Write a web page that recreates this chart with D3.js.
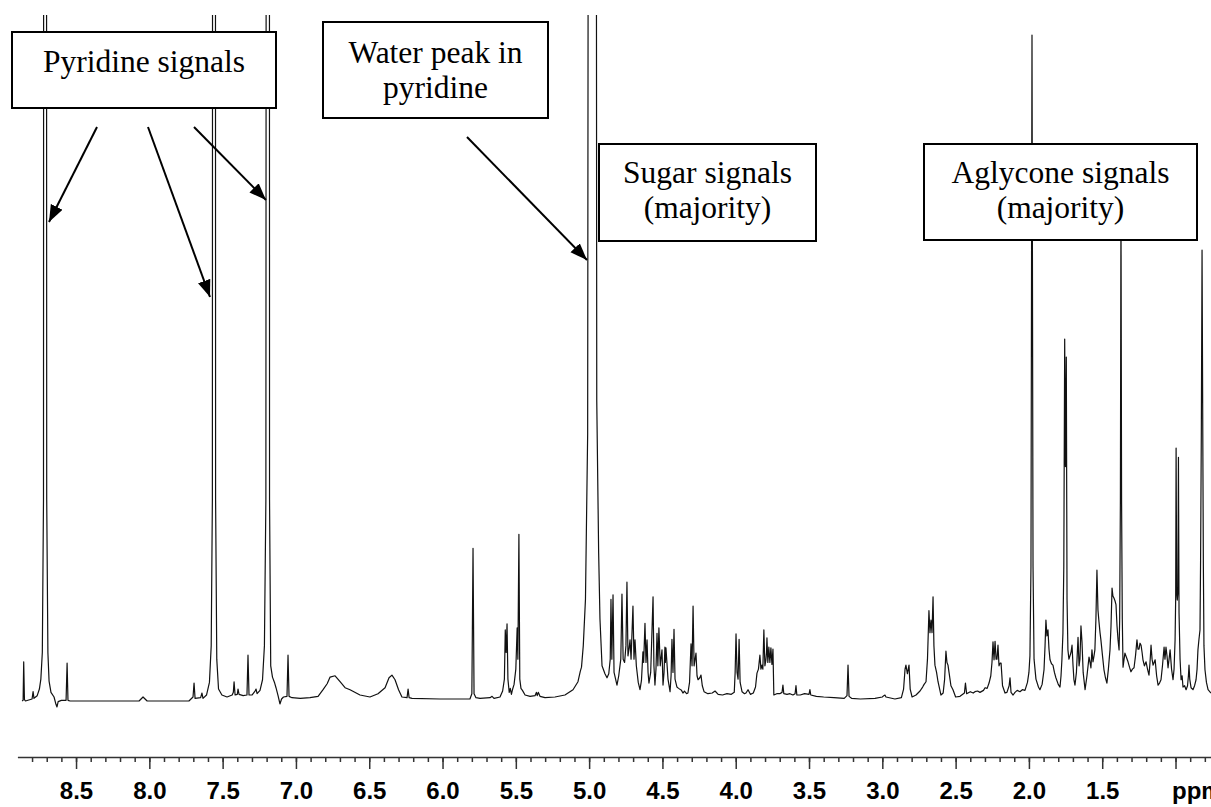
<!DOCTYPE html>
<html>
<head>
<meta charset="utf-8">
<title>1H NMR spectrum in pyridine</title>
<style>
body { margin: 0; background: #fff; }
.spectrum { fill: none; stroke: #111; stroke-width: 1.2px; stroke-linejoin: round; }
.axis path, .axis line { stroke: #333; stroke-width: 1.5px; }
.axis text { font: bold 24px "Liberation Sans", Arial, sans-serif; fill: #000; }
.note rect { fill: #fff; stroke: #000; stroke-width: 2px; }
.note text { font: 31.5px "Liberation Serif", "Times New Roman", serif; fill: #000; text-anchor: middle; }
.arrow { stroke: #000; stroke-width: 2px; }
</style>
</head>
<body>
<script src="https://cdnjs.cloudflare.com/ajax/libs/d3/7.8.5/d3.min.js"></script>
<script>

// spectrum as [ppm, intensity] (1.98 ppm singlet = 100)
var aromaticRegion = [
  [8.868,-0.3],[8.861,-0.2],[8.857,5.6],[8.852,-0.1],[8.845,-0.3],[8.800,0.0],[8.793,1.1],[8.787,0.1],
  [8.765,0.5],[8.750,1.5],[8.740,3.0],[8.730,7.0],[8.722,30],[8.718,400],[8.705,400],[8.700,30],
  [8.692,7.0],[8.684,2.7],[8.671,1.0],[8.650,0.3],[8.637,-0.8],[8.630,-1.2],[8.622,-0.4],[8.600,-0.2],
  [8.568,-0.2],[8.561,5.4],[8.555,-0.2],[8.540,-0.3],[8.340,-0.3],[8.070,-0.3],[8.043,0.3],[8.015,-0.3],
  [7.730,-0.3],[7.702,0.3],[7.695,2.4],[7.688,0.1],[7.650,0.2],[7.641,0.9],[7.634,0.1],[7.610,0.6],
  [7.590,2.5],[7.578,8],[7.570,30],[7.565,400],[7.552,400],[7.548,30],[7.540,6],[7.528,1.5],
  [7.505,0.6],[7.470,0.3],[7.435,0.6],[7.427,1.0],[7.422,2.6],[7.415,0.6],[7.400,0.7],[7.395,1.5],
  [7.388,0.7],[7.360,0.5],[7.334,0.6],[7.327,6.6],[7.320,0.6],[7.300,0.6],[7.279,1.2],[7.272,1.5],
  [7.265,0.8],[7.245,1.3],[7.228,2.9],[7.215,8],[7.205,30],[7.197,400],[7.183,400],[7.180,30],
  [7.172,5],[7.160,3.3],[7.145,2.4],[7.136,1.7],[7.122,0.5],[7.109,-0.75],[7.098,0.0],[7.085,0.3],
  [7.061,0.4],[7.054,6.6],[7.047,0.4],[7.027,0.2],[6.970,0.1],[6.904,0.2],[6.849,0.4],[6.815,1.4],
  [6.787,2.3],[6.767,3.3],[6.733,3.5],[6.699,2.6],[6.665,1.7],[6.631,1.4],[6.563,0.6],[6.495,0.3],
  [6.440,0.8],[6.392,1.7],[6.365,3.2],[6.345,3.6],[6.324,2.9],[6.300,1.4],[6.277,0.3],[6.242,0.2],
  [6.235,1.5],[6.228,0.2],[6.208,0.1],[6.017,0.0]
];

var olefinicRegion = [
  [5.813,0.0],[5.800,0.8],[5.792,22.7],[5.785,0.8],[5.772,0.2],[5.744,0.1],[5.676,0.2],[5.662,0.4],
  [5.649,0.1],[5.608,0.3],[5.590,1.2],[5.578,3.0],[5.572,10.4],[5.566,7.0],[5.560,11.3],[5.554,3.0],
  [5.545,1.0],[5.538,1.6],[5.530,0.7],[5.523,1.4],[5.512,2.2],[5.500,4.5],[5.491,10.7],[5.486,6.0],
  [5.479,24.8],[5.473,3.0],[5.465,1.6],[5.455,1.3],[5.437,0.6],[5.403,0.4],[5.369,0.5],[5.360,1.0],
  [5.354,0.5],[5.347,1.0],[5.335,0.4],[5.301,0.2],[5.233,0.3],[5.165,0.6],[5.110,1.4],[5.076,2.6],
  [5.060,4.2],[5.052,4.8],[5.040,8],[5.025,15],[5.010,40],[4.994,400],[4.960,400],[4.948,45],
  [4.935,22],[4.926,12],[4.912,5.0],[4.892,3.8]
];

var sugarRegion = [
  [4.878,3.2],[4.866,3.8],[4.856,6],[4.851,15.0],[4.845,6],[4.837,15.7],[4.830,4],[4.810,2.1],
  [4.798,3.5],[4.784,6],[4.776,15.8],[4.768,6],[4.758,5.5],[4.749,8],[4.742,17.6],[4.735,6.5],
  [4.728,7.5],[4.721,8.9],[4.714,6.0],[4.701,14.0],[4.694,6.0],[4.687,8.9],[4.678,5.0],[4.665,2.5],
  [4.653,1.4],[4.643,2.8],[4.633,7.1],[4.628,5.5],[4.619,11.4],[4.612,5.5],[4.605,8.9],[4.598,4.0],
  [4.592,2.4],[4.580,4.0],[4.564,15.4],[4.558,5.0],[4.551,2.1],[4.544,4.5],[4.537,9.9],[4.531,5.0],
  [4.524,10.7],[4.515,5.0],[4.503,7.4],[4.496,2.1],[4.489,4.0],[4.483,7.8],[4.480,5.5],[4.476,7.7],
  [4.462,3.0],[4.448,1.1],[4.441,3.5],[4.435,9.0],[4.428,4.0],[4.421,10.5],[4.414,3.0],[4.401,1.8],
  [4.390,1.6],[4.370,1.3],[4.360,0.9],[4.350,1.2],[4.335,0.8],[4.326,0.9],[4.315,2.5],[4.305,8.3],
  [4.298,5.0],[4.291,14.0],[4.284,5.0],[4.271,6.9],[4.264,3.5],[4.257,2.9],[4.245,3.2],[4.237,3.6],
  [4.228,2.0],[4.216,1.1],[4.190,0.8],[4.160,0.9],[4.141,1.2],[4.120,0.7],[4.090,0.6],[4.060,0.8],
  [4.030,0.7],[4.010,1.0],[4.004,4],[3.998,9.8],[3.991,4],[3.984,3],[3.977,9.0],[3.970,2.5],
  [3.957,1.1],[3.940,0.8],[3.930,0.9],[3.916,1.4],[3.900,0.7],[3.880,0.9],[3.865,1.8],[3.855,3.9],
  [3.845,4.5],[3.835,6.6],[3.828,4.5],[3.821,5.1],[3.815,4.5],[3.808,10.4],[3.801,5.0],[3.794,5.9],
  [3.790,7.0],[3.787,9.2],[3.781,5.5],[3.774,7.8],[3.767,5.5],[3.760,7.7],[3.753,5.2],[3.746,7.5],
  [3.740,0.6],[3.720,0.8],[3.700,0.8],[3.684,1.0],[3.678,2.1],[3.672,0.8],[3.650,0.7],[3.630,0.8],
  [3.610,0.6],[3.595,0.8],[3.589,2.0],[3.583,0.6],[3.560,0.6],[3.530,0.8],[3.500,0.7],[3.494,1.4],
  [3.488,0.6],[3.450,0.4],[3.400,0.3],[3.330,0.2],[3.260,0.1],[3.241,0.5],[3.234,5.1],[3.227,0.4],
  [3.210,0.1],[3.150,0.0]
];

var aglyconeRegion = [
  [3.050,0.1],[3.000,0.3],[2.990,0.5],[2.982,0.6],[2.975,0.3],[2.914,0.0],[2.870,0.2],[2.855,1.5],
  [2.845,4.5],[2.839,5.1],[2.829,3.8],[2.818,5.1],[2.810,1.5],[2.797,0.3],[2.770,0.6],[2.743,1.2],
  [2.725,1.8],[2.715,2.2],[2.702,2.6],[2.692,6],[2.682,13.3],[2.675,10],[2.668,11.9],[2.661,10],
  [2.654,15.4],[2.648,8],[2.641,5.1],[2.630,4.0],[2.620,2.6],[2.600,0.6],[2.585,0.9],[2.575,3],
  [2.566,7.2],[2.559,5.5],[2.552,5.1],[2.545,4],[2.532,2.0],[2.518,1.4],[2.500,0.3],[2.470,0.4],
  [2.440,0.9],[2.433,2.4],[2.425,0.8],[2.400,1.1],[2.380,0.9],[2.368,1.1],[2.350,1.2],[2.334,1.0],
  [2.310,1.3],[2.299,1.7],[2.285,1.6],[2.272,2.4],[2.260,3.5],[2.252,5.5],[2.245,8.6],[2.238,5.9],
  [2.231,8.7],[2.224,6.0],[2.218,6.0],[2.211,8.1],[2.204,5.0],[2.197,5.4],[2.190,5.4],[2.180,2.0],
  [2.163,0.9],[2.150,1.0],[2.135,2.0],[2.129,3.2],[2.122,1.0],[2.108,0.6],[2.095,1.0],[2.080,1.3],
  [2.061,1.1],[2.045,1.4],[2.027,1.3],[2.010,2.5],[2.000,4.0],[1.993,6.5],[1.986,20],[1.979,100],
  [1.972,20],[1.965,6],[1.952,3],[1.935,1.8],[1.925,1.4],[1.910,2.2],[1.897,4.4],[1.890,8],
  [1.884,11.9],[1.877,9.5],[1.870,10.4],[1.863,7.5],[1.856,5.9],[1.846,5.3],[1.836,5.1],[1.826,4.0],
  [1.816,3.2],[1.800,2.2],[1.788,1.8],[1.781,3.5],[1.775,5.9],[1.768,9.9],[1.762,20],[1.756,54.2],
  [1.751,35],[1.745,51.5],[1.740,15],[1.734,7.4],[1.727,6.0],[1.720,6.5],[1.713,7.0],[1.706,8.1],
  [1.699,5],[1.693,2.9],[1.686,2.1],[1.676,4],[1.665,9.3],[1.658,5.0],[1.652,6.0],[1.645,11.0],
  [1.638,8.6],[1.630,4.0],[1.617,1.4],[1.604,3.5],[1.590,6.3],[1.583,5.5],[1.577,4.7],[1.570,7.4],
  [1.563,5.6],[1.556,6.5],[1.550,7.4],[1.543,12],[1.536,19.4],[1.529,13.4],[1.522,11.6],[1.515,10],
  [1.509,8.9],[1.498,6.5],[1.488,4.4],[1.478,3.2],[1.468,2.4],[1.458,4.5],[1.447,7.4],[1.440,11],
  [1.433,16.7],[1.427,15.5],[1.420,15.2],[1.413,14.8],[1.406,14.2],[1.399,11],[1.392,8.9],[1.385,7.4],
  [1.381,11.9],[1.376,30],[1.372,75],[1.368,30],[1.363,12],[1.358,4.8],[1.352,5.8],[1.345,6.9],
  [1.335,6.3],[1.324,5.6],[1.314,4.8],[1.304,4.1],[1.294,4.5],[1.283,4.7],[1.273,6.5],[1.263,8.9],
  [1.256,7.5],[1.249,7.5],[1.242,8.4],[1.235,8.1],[1.228,7.0],[1.222,5.9],[1.212,5.0],[1.201,5.6],
  [1.191,4.5],[1.181,3.6],[1.174,5.5],[1.167,8.1],[1.160,6.0],[1.153,5.1],[1.146,5.5],[1.139,5.9],
  [1.129,3.5],[1.119,2.1],[1.109,2.4],[1.099,2.9],[1.089,5.0],[1.078,7.8],[1.072,6.0],[1.065,7.8],
  [1.058,6.5],[1.051,4.7],[1.044,6.0],[1.037,7.4],[1.027,4.5],[1.017,2.9],[1.010,4.5],[1.003,8.9],
  [0.999,15],[0.996,37.8],[0.992,16],[0.988,14.9],[0.984,16],[0.980,36.4],[0.976,13],[0.969,6],
  [0.962,2.9],[0.955,3.5],[0.949,1.8],[0.938,2.0],[0.928,1.4],[0.918,2.0],[0.912,3.5],[0.908,5.1],
  [0.903,3.0],[0.894,1.7],[0.881,1.4],[0.870,2.0],[0.860,2.9],[0.853,4.5],[0.847,7.4],[0.840,9],
  [0.833,10.4],[0.829,20.9],[0.824,40],[0.819,67.6],[0.814,40],[0.810,20],[0.806,8],[0.799,4.4],
  [0.789,2.5],[0.778,1.4],[0.758,0.9]
];

var majorTicks = [8.5, 8.0, 7.5, 7.0, 6.5, 6.0, 5.5, 5.0, 4.5, 4.0, 3.5, 3.0, 2.5, 2.0, 1.5, 1.0];
var minorTicks = d3.range(88, 7, -1).map(function(d) { return d / 10; });
var axisUnit = "ppm";

var notes = [
  {lines: ["Pyridine signals"], x: 12, y: 32, w: 264, h: 76, base: 72},
  {lines: ["Water peak in", "pyridine"], x: 323, y: 22, w: 225, h: 96, base: 63},
  {lines: ["Sugar signals", "(majority)"], x: 599, y: 144, w: 217, h: 97, base: 183},
  {lines: ["Aglycone signals", "(majority)"], x: 924, y: 144, w: 273, h: 96, base: 183}
];
var arrows = [
  [97, 127, 49, 222],
  [148, 127, 210, 297],
  [194, 127, 266, 200],
  [467, 137, 587, 260]
];

var width = 1211,
    height = 807;

var spectrum = aromaticRegion.concat(olefinicRegion, sugarRegion, aglyconeRegion);

var x = d3.scaleLinear().domain([8.9, 0.76]).range([17.4, 1210.7]);
var y = d3.scaleLinear().domain([0, 100]).range([699, 35]);
var axisY = 757;

var svg = d3.select("body").append("svg")
    .attr("width", width)
    .attr("height", height);

var defs = svg.append("defs");
defs.append("clipPath").attr("id", "plotclip")
  .append("rect")
    .attr("x", 0).attr("y", 15)
    .attr("width", width).attr("height", axisY - 15);

defs.append("marker")
    .attr("id", "head")
    .attr("markerUnits", "userSpaceOnUse")
    .attr("markerWidth", 18).attr("markerHeight", 14)
    .attr("refX", 17).attr("refY", 6.5)
    .attr("orient", "auto")
  .append("path")
    .attr("d", "M0,0 L17,6.5 L0,13 Z")
    .attr("fill", "#000");

var line = d3.line()
    .x(function(d) { return x(d[0]); })
    .y(function(d) { return y(d[1]); });

svg.append("path")
    .datum(spectrum)
    .attr("class", "spectrum")
    .attr("clip-path", "url(#plotclip)")
    .attr("d", line);

// ppm axis: minor ticks every 0.1, labelled majors every 0.5
svg.append("g")
    .attr("class", "axis")
    .attr("transform", "translate(0," + axisY + ")")
    .call(d3.axisBottom(x).tickValues(minorTicks).tickSize(5).tickSizeOuter(0).tickFormat(""));

var major = svg.append("g")
    .attr("class", "axis")
    .attr("transform", "translate(0," + axisY + ")")
    .call(d3.axisBottom(x).tickValues(majorTicks).tickSize(12).tickSizeOuter(0)
      .tickFormat(function(d) { return d === 1 ? axisUnit : d3.format(".1f")(d); }));

major.select(".domain").remove();
major.selectAll("text")
    .attr("y", 42)
    .attr("dy", 0);
major.selectAll(".tick")
  .filter(function(d) { return d === 1; })
  .select("text")
    .attr("text-anchor", "start")
    .attr("x", -4);

// annotation boxes
var note = svg.selectAll(".note")
    .data(notes)
    .enter().append("g")
    .attr("class", "note");

note.append("rect")
    .attr("x", function(d) { return d.x; })
    .attr("y", function(d) { return d.y; })
    .attr("width", function(d) { return d.w; })
    .attr("height", function(d) { return d.h; });

note.each(function(d) {
  var g = d3.select(this);
  d.lines.forEach(function(t, i) {
    g.append("text")
        .attr("x", d.x + d.w / 2)
        .attr("y", d.base + i * 35)
        .text(t);
  });
});

svg.selectAll(".arrow")
    .data(arrows)
    .enter().append("line")
    .attr("class", "arrow")
    .attr("x1", function(d) { return d[0]; })
    .attr("y1", function(d) { return d[1]; })
    .attr("x2", function(d) { return d[2]; })
    .attr("y2", function(d) { return d[3]; })
    .attr("marker-end", "url(#head)");

</script>
</body>
</html>
